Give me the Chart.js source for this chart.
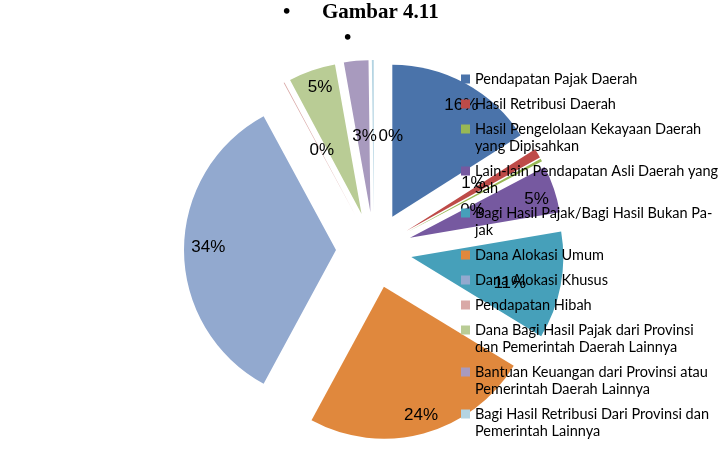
<!DOCTYPE html>
<html>
<head>
<meta charset="utf-8">
<script src="https://cdn.jsdelivr.net/npm/chart.js@4.4.1/dist/chart.umd.min.js"></script>
<style>
html, body { margin: 0; padding: 0; background: #ffffff; }
#wrap { width: 728px; height: 454px; position: relative; }
</style>
</head>
<body>
<div id="wrap"><canvas id="c" width="728" height="454"></canvas></div>
<script>
// ---- data ----
const categories = [
  "Pendapatan Pajak Daerah",
  "Hasil Retribusi Daerah",
  "Hasil Pengelolaan Kekayaan Daerah yang Dipisahkan",
  "Lain-lain Pendapatan Asli Daerah yang Sah",
  "Bagi Hasil Pajak/Bagi Hasil Bukan Pa\u00ADjak",
  "Dana Alokasi Umum",
  "Dana Alokasi Khusus",
  "Pendapatan Hibah",
  "Dana Bagi Hasil Pajak dari Provinsi dan Pemerintah Daerah Lainnya",
  "Bantuan Keuangan dari Provinsi atau Pemerintah Daerah Lainnya",
  "Bagi Hasil Retribusi Dari Provinsi dan Pemerintah Lainnya"
];
const shares = [16.0, 1.0, 0.3, 5.0, 11.4, 24.2, 34.2, 0.1, 5.0, 2.6, 0.2];
const sliceColors = [
  "#4A73AA", "#BE4B48", "#98B855", "#7659A0", "#46A0BA", "#E0883D",
  "#92A9CF", "#D9A9A7", "#B9CC95", "#A89ABE", "#B4D4E2"
];
const titleLines = ["\u2022\u00a0\u00a0\u00a0\u00a0\u00a0\u00a0Gambar 4.11\u00a0\u00a0\u00a0\u00a0\u00a0", "\u2022\u00a0\u00a0\u00a0\u00a0\u00a0\u00a0\u00a0\u00a0\u00a0\u00a0"];

// ---- style ----
const EXPLODE = 38;          // uniform explosion distance (px)
const PIE_RADIUS = 152;
const labelRadius = [0.86, 0.54, 0.45, 0.87, 0.67, 0.88, 0.84, 0.49, 0.88, 0.50, 0.51];
const labelTurn   = [3, -5, 10, 2, 4, -1, 1, 1, 1, 1, 13];

// draw every arc shifted outward by the same distance (Excel-style exploded pie)
const baseArcDraw = Chart.ArcElement.prototype.draw;
Chart.ArcElement.prototype.draw = function (ctx, area) {
  const half = (this.startAngle + this.endAngle) / 2;
  ctx.save();
  ctx.translate(Math.cos(half) * EXPLODE, Math.sin(half) * EXPLODE);
  baseArcDraw.call(this, ctx, area);
  ctx.restore();
};

const pctLabels = {
  id: 'pctLabels',
  afterDatasetsDraw(chart) {
    const ctx = chart.ctx;
    const meta = chart.getDatasetMeta(0);
    const data = chart.data.datasets[0].data;
    const total = data.reduce((a, b) => a + b, 0);
    ctx.save();
    ctx.font = '17px "Liberation Sans", Arial, sans-serif';
    ctx.fillStyle = '#000000';
    ctx.textAlign = 'center';
    ctx.textBaseline = 'middle';
    meta.data.forEach((el, i) => {
      const mid = (el.startAngle + el.endAngle) / 2;
      const ax = el.x + Math.cos(mid) * EXPLODE;
      const ay = el.y + Math.sin(mid) * EXPLODE;
      const a = mid + labelTurn[i] * Math.PI / 180;
      const r = labelRadius[i] * el.outerRadius;
      ctx.fillText(Math.round(data[i] / total * 100) + '%', ax + Math.cos(a) * r, ay + Math.sin(a) * r);
    });
    ctx.restore();
  }
};

function cleanHyph(s) { return s.replace(/\u00AD/g, ''); }
function wrapText(ctx, text, maxW) {
  const words = text.split(' ');
  const lines = [];
  let line = '';
  for (const w of words) {
    const test = line ? line + ' ' + w : w;
    if (!line || ctx.measureText(cleanHyph(test)).width <= maxW) { line = test; continue; }
    const parts = w.split('\u00AD');
    let placed = false;
    for (let k = parts.length - 1; k >= 1; k--) {
      const head = line + ' ' + parts.slice(0, k).join('') + '-';
      if (ctx.measureText(cleanHyph(head)).width <= maxW) {
        lines.push(head);
        line = parts.slice(k).join('');
        placed = true;
        break;
      }
    }
    if (!placed) { lines.push(line); line = w; }
  }
  lines.push(line);
  return lines.map(cleanHyph);
}

const sideLegend = {
  id: 'sideLegend',
  afterDraw(chart) {
    const ctx = chart.ctx;
    const labels = chart.data.labels;
    const colors = chart.data.datasets[0].backgroundColor;
    const markX = 461, textX = 475, maxW = 244, lineH = 17, gap = 8;
    let y = 79;
    ctx.save();
    ctx.font = '14.5px Lato, sans-serif';
    ctx.textBaseline = 'middle';
    ctx.textAlign = 'left';
    labels.forEach((lab, i) => {
      const lines = wrapText(ctx, lab, maxW);
      ctx.fillStyle = colors[i];
      ctx.fillRect(markX, y - 4.5, 9, 9);
      ctx.fillStyle = '#000000';
      lines.forEach((ln, j) => ctx.fillText(ln, textX, y + j * lineH));
      y += lines.length * lineH + gap;
    });
    ctx.restore();
  }
};

new Chart(document.getElementById('c'), {
  type: 'pie',
  data: {
    labels: categories,
    datasets: [{
      data: shares,
      backgroundColor: sliceColors,
      borderWidth: 0,
      radius: PIE_RADIUS
    }]
  },
  options: {
    responsive: false,
    animation: false,
    events: [],
    layout: { padding: { left: 20, right: 0, top: 0, bottom: 6 } },
    plugins: {
      legend: { display: false },
      tooltip: { enabled: false },
      title: {
        display: true,
        text: titleLines,
        color: '#000000',
        font: { family: '"Liberation Serif", "Times New Roman", serif', size: 21, weight: 'bold', lineHeight: '26px' },
        padding: { top: 0, bottom: 0 }
      }
    }
  },
  plugins: [pctLabels, sideLegend]
});
</script>
</body>
</html>
